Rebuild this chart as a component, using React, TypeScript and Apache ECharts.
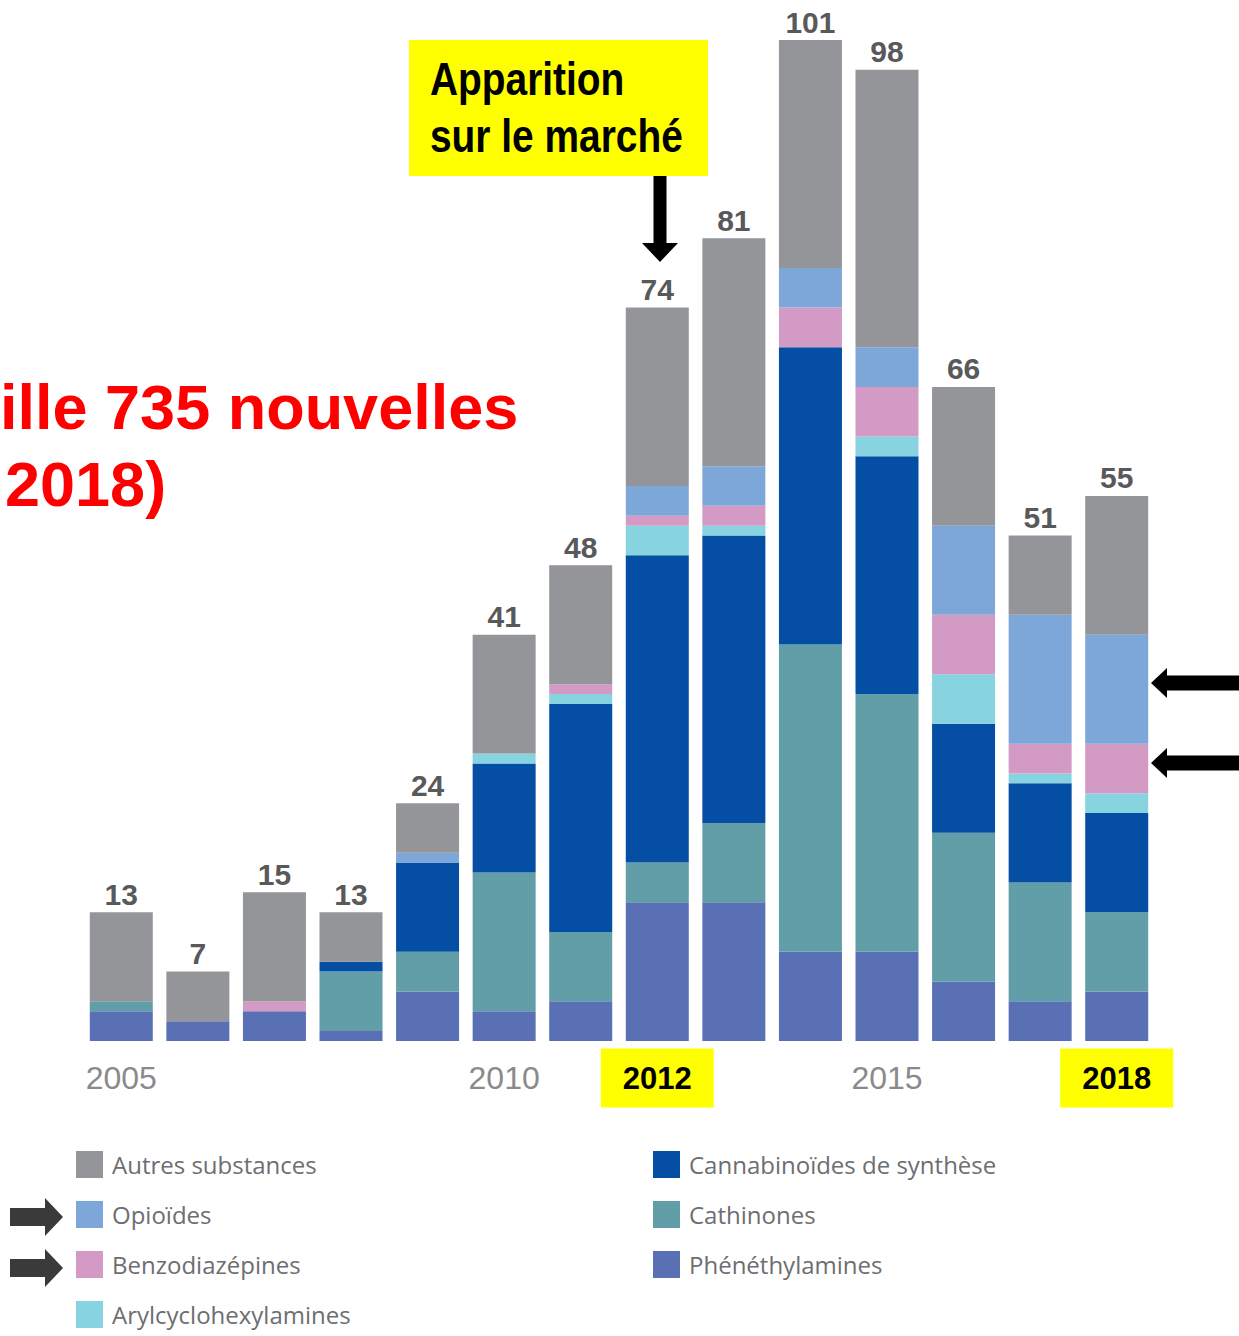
import React, { useEffect, useRef } from "react";
import * as echarts from "echarts";

const years = ["2005", "2006", "2007", "2008", "2009", "2010", "2011", "2012", "2013", "2014", "2015", "2016", "2017", "2018"];
const phenethylamines = [3, 2, 3, 1, 5, 3, 4, 14, 14, 9, 9, 6, 4, 5];
const cathinones = [1, 0, 0, 6, 4, 14, 7, 4, 8, 31, 26, 15, 12, 8];
const cannabinoides = [0, 0, 0, 1, 9, 11, 23, 31, 29, 30, 24, 11, 10, 10];
const arylcyclohexylamines = [0, 0, 0, 0, 0, 1, 1, 3, 1, 0, 2, 5, 1, 2];
const benzodiazepines = [0, 0, 1, 0, 0, 0, 1, 1, 2, 4, 5, 6, 3, 5];
const opioides = [0, 0, 0, 0, 1, 0, 0, 3, 4, 4, 4, 9, 13, 11];
const autres = [9, 5, 11, 5, 5, 12, 12, 18, 23, 23, 28, 14, 8, 14];

const tickYears = ["2005", "2010", "2015"];
const highlightedYears = ["2012", "2018"];

const legendLeft = ["Autres substances", "Opioïdes", "Benzodiazépines", "Arylcyclohexylamines"];
const legendRight = ["Cannabinoïdes de synthèse", "Cathinones", "Phénéthylamines"];

const FONT = "'Liberation Sans', Arial, sans-serif";
const LEGEND_FONT = "'Open Sans', 'Liberation Sans', sans-serif";

export default function App() {
  const ref = useRef<HTMLDivElement>(null);
  useEffect(() => {
    document.body.style.margin = "0";
    const chart = echarts.init(ref.current!, null, { renderer: "svg" });
    const stackSeries = [
      { name: "Phénéthylamines", data: phenethylamines, color: "#5a70b4" },
      { name: "Cathinones", data: cathinones, color: "#629ea7" },
      { name: "Cannabinoïdes de synthèse", data: cannabinoides, color: "#044ea3" },
      { name: "Arylcyclohexylamines", data: arylcyclohexylamines, color: "#87d3e0" },
      { name: "Benzodiazépines", data: benzodiazepines, color: "#d29ac4" },
      { name: "Opioïdes", data: opioides, color: "#7ea7d9" },
      { name: "Autres substances", data: autres, color: "#939598" },
    ];
    const totals = years.map((_, i) => stackSeries.reduce((s, ser) => s + ser.data[i], 0));

    const series = stackSeries.map((s, idx) => ({
      type: "bar",
      name: s.name,
      stack: "total",
      data: s.data,
      barWidth: 63,
      itemStyle: { color: s.color },
      label:
        idx === stackSeries.length - 1
          ? {
              show: true,
              position: "top",
              distance: 3,
              formatter: (p: any) => String(totals[p.dataIndex]),
              color: "#58595b",
              fontSize: 30,
              fontWeight: "bold",
              fontFamily: FONT,
            }
          : { show: false },
    }));

    const arrowRight = (cy: number) => [
      [1239, cy - 7.5],
      [1167, cy - 7.5],
      [1167, cy - 15],
      [1151, cy],
      [1167, cy + 15],
      [1167, cy + 7.5],
      [1239, cy + 7.5],
    ];
    const legendArrow = (cy: number) => [
      [10, cy - 9],
      [45, cy - 9],
      [45, cy - 19],
      [63, cy],
      [45, cy + 19],
      [45, cy + 9],
      [10, cy + 9],
    ];

    const legendCommon = {
      top: 1151,
      orient: "vertical",
      itemWidth: 27,
      itemHeight: 27,
      itemGap: 23,
      icon: "rect",
      padding: 0,
      selectedMode: false,
      textStyle: {
        color: "#6d6e71",
        fontSize: 24,
        lineHeight: 26,
        fontFamily: LEGEND_FONT,
        padding: [0, 0, 0, 4],
      },
    };

    const option: any = {
      animation: false,
      grid: { left: 83, right: 84, top: 40, bottom: 295 },
      xAxis: {
        type: "category",
        data: years,
        axisLine: { show: false },
        axisTick: { show: false },
        axisLabel: {
          interval: 0,
          margin: 37,
          verticalAlign: "middle",
          formatter: (v: string) => {
            if (highlightedYears.includes(v)) return `{hl|${v}}`;
            if (tickYears.includes(v)) return `{n|${v}}`;
            return "";
          },
          rich: {
            n: { color: "#8a8a8c", fontSize: 32, fontFamily: FONT },
            hl: {
              color: "#000",
              fontSize: 31,
              fontWeight: "bold",
              fontFamily: FONT,
              backgroundColor: "#ffff00",
              lineHeight: 31,
              padding: [14, 22, 14, 22],
            },
          },
        },
      },
      yAxis: { type: "value", min: 0, max: 101, show: false },
      legend: [
        { ...legendCommon, data: legendLeft, left: 76 },
        { ...legendCommon, data: legendRight, left: 653 },
      ],
      graphic: [
        {
          type: "text",
          x: 0,
          y: 407,
          style: {
            text: "ille 735 nouvelles",
            fill: "#ff0000",
            fontSize: 63,
            fontWeight: "bold",
            fontFamily: FONT,
            verticalAlign: "middle",
          },
        },
        {
          type: "text",
          x: 5,
          y: 484,
          style: {
            text: "2018)",
            fill: "#ff0000",
            fontSize: 63,
            fontWeight: "bold",
            fontFamily: FONT,
            verticalAlign: "middle",
          },
        },
        {
          type: "rect",
          shape: { x: 409, y: 40, width: 299, height: 136 },
          style: { fill: "#ffff00" },
        },
        {
          type: "text",
          x: 430,
          y: 79,
          scaleX: 0.845,
          style: {
            text: "Apparition",
            fill: "#000",
            fontSize: 46,
            fontWeight: "bold",
            fontFamily: FONT,
            verticalAlign: "middle",
          },
        },
        {
          type: "text",
          x: 430,
          y: 136,
          scaleX: 0.845,
          style: {
            text: "sur le marché",
            fill: "#000",
            fontSize: 46,
            fontWeight: "bold",
            fontFamily: FONT,
            verticalAlign: "middle",
          },
        },
        {
          type: "polygon",
          shape: {
            points: [
              [653.5, 176],
              [666.5, 176],
              [666.5, 243],
              [678, 243],
              [660, 262],
              [642, 243],
              [653.5, 243],
            ],
          },
          style: { fill: "#000" },
        },
        { type: "polygon", shape: { points: arrowRight(683) }, style: { fill: "#000" } },
        { type: "polygon", shape: { points: arrowRight(763) }, style: { fill: "#000" } },
        { type: "polygon", shape: { points: legendArrow(1217) }, style: { fill: "#3a3a3a" } },
        { type: "polygon", shape: { points: legendArrow(1268) }, style: { fill: "#3a3a3a" } },
      ],
      series,
    };
    chart.setOption(option);
    return () => chart.dispose();
  }, []);
  return <div ref={ref} style={{ width: 1239, height: 1336 }} />;
}
